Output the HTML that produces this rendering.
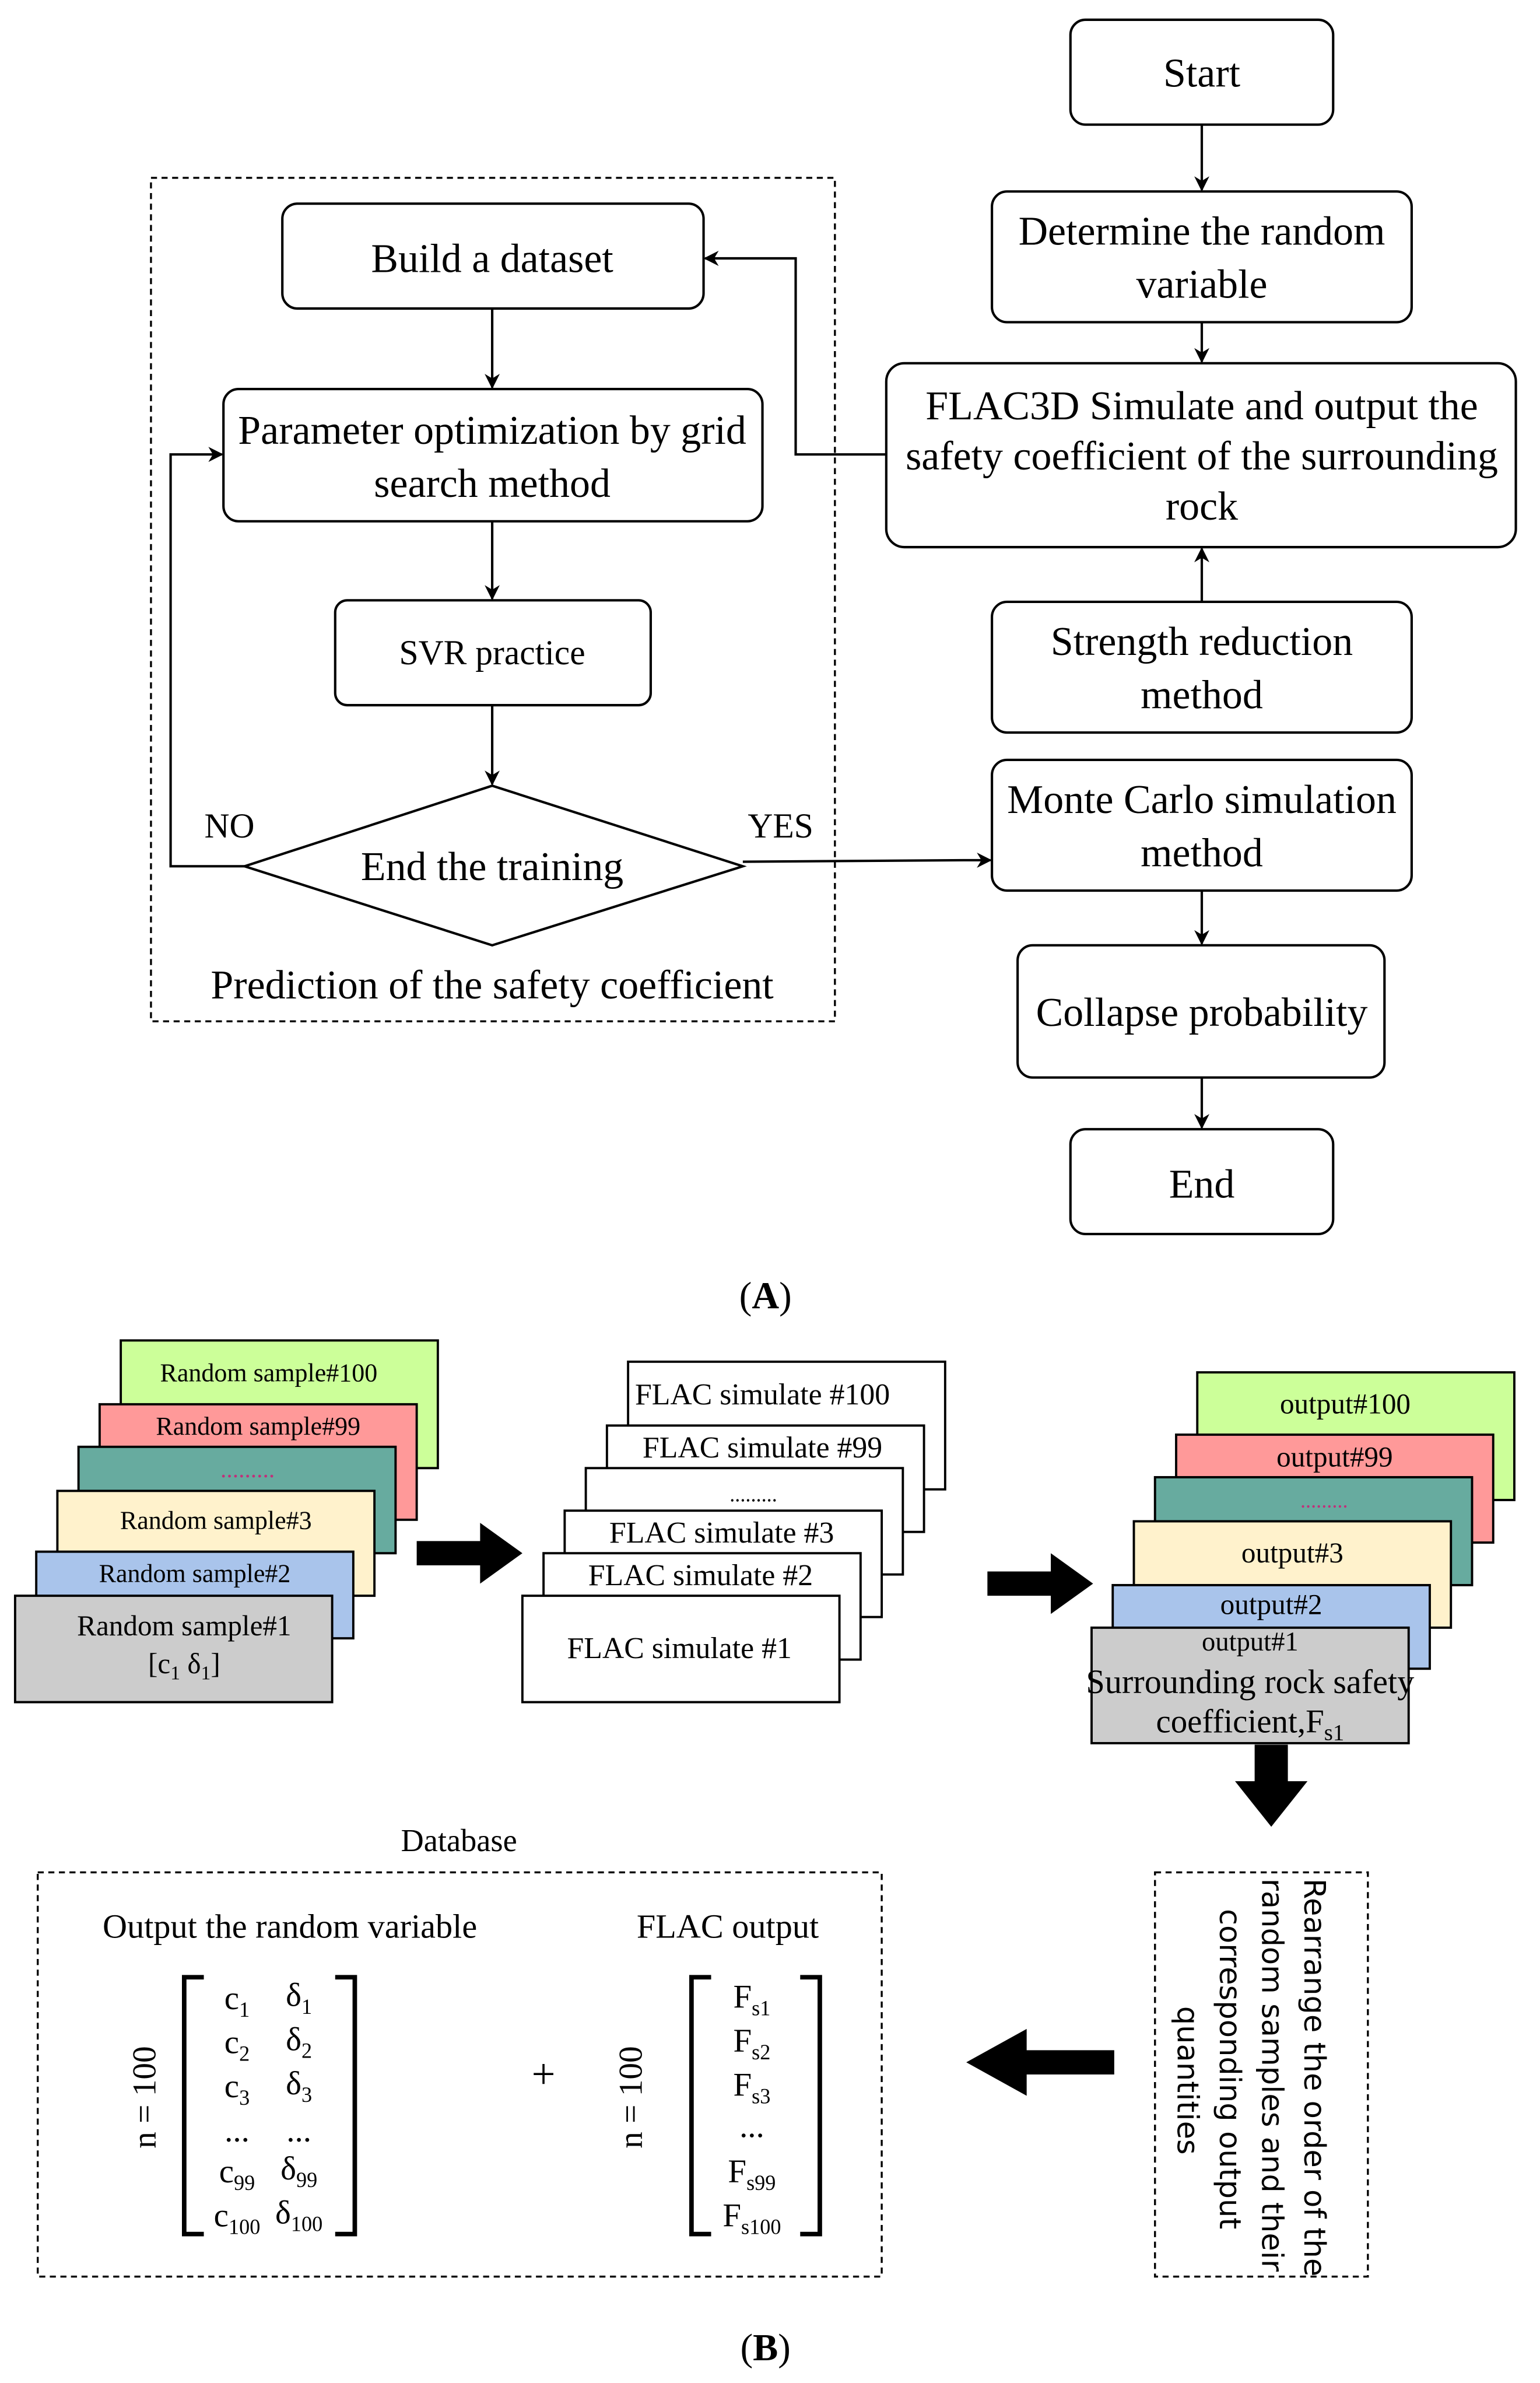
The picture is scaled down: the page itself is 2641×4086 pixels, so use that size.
<!DOCTYPE html>
<html><head><meta charset="utf-8"><style>html,body{margin:0;padding:0;background:#fff}svg{display:block}</style></head>
<body>
<svg width="2641" height="4086" viewBox="0 0 1020 1568" preserveAspectRatio="none" xmlns="http://www.w3.org/2000/svg" font-family="Liberation Serif, serif">
<defs>
<marker id="ah" markerWidth="10" markerHeight="10" refX="9" refY="5" orient="auto" markerUnits="userSpaceOnUse"><path d="M0,0 L10,5 L0,10 L3,5 z" fill="#000"/></marker>
</defs>
<rect width="1020" height="1568" fill="#fff"/>
<g fill="none" stroke="#000" stroke-width="1.6">
<rect x="709" y="13" width="174" height="69" rx="10"/>
<rect x="657" y="126" width="278" height="86" rx="10"/>
<rect x="587" y="239" width="417" height="121" rx="12"/>
<rect x="657" y="396" width="278" height="86" rx="10"/>
<rect x="657" y="500" width="278" height="86" rx="10"/>
<rect x="674" y="622" width="243" height="87" rx="10"/>
<rect x="709" y="743" width="174" height="69" rx="10"/>
<rect x="187" y="134" width="279" height="69" rx="10"/>
<rect x="148" y="256" width="357" height="87" rx="10"/>
<rect x="222" y="395" width="209" height="69" rx="8"/>
<polygon points="326,517 492,570 326,622 162,570"/>
<rect x="100" y="117" width="453" height="555" stroke-dasharray="4,3" stroke-width="1.3"/>
<line x1="796" y1="82" x2="796" y2="125" marker-end="url(#ah)"/>
<line x1="796" y1="212" x2="796" y2="238" marker-end="url(#ah)"/>
<line x1="796" y1="396" x2="796" y2="361" marker-end="url(#ah)"/>
<line x1="796" y1="586" x2="796" y2="621" marker-end="url(#ah)"/>
<line x1="796" y1="709" x2="796" y2="742" marker-end="url(#ah)"/>
<line x1="326" y1="203" x2="326" y2="255" marker-end="url(#ah)"/>
<line x1="326" y1="343" x2="326" y2="394" marker-end="url(#ah)"/>
<line x1="326" y1="464" x2="326" y2="516" marker-end="url(#ah)"/>
<polyline points="162,570 113,570 113,299 147,299" marker-end="url(#ah)"/>
<polyline points="492,567 640,566 656,566" marker-end="url(#ah)"/>
<polyline points="587,299 527,299 527,170 467,170" marker-end="url(#ah)"/>
</g>
<g font-size="27" text-anchor="middle" fill="#000">
<text x="796" y="57">Start</text>
<text x="796" y="161">Determine the random</text>
<text x="796" y="196">variable</text>
<text x="796" y="276">FLAC3D Simulate and output the</text>
<text x="796" y="309">safety coefficient of the surrounding</text>
<text x="796" y="342">rock</text>
<text x="796" y="431">Strength reduction</text>
<text x="796" y="466">method</text>
<text x="796" y="535">Monte Carlo simulation</text>
<text x="796" y="570">method</text>
<text x="796" y="675">Collapse probability</text>
<text x="796" y="788">End</text>
<text x="326" y="179">Build a dataset</text>
<text x="326" y="292">Parameter optimization by grid</text>
<text x="326" y="327">search method</text>
<text x="326" y="437" font-size="23">SVR practice</text>
<text x="326" y="579">End the training</text>
<text x="152" y="551" font-size="23">NO</text>
<text x="517" y="551" font-size="23">YES</text>
<text x="326" y="657">Prediction of the safety coefficient</text>
<text x="507" y="861" font-size="25">(<tspan font-weight="bold">A</tspan>)</text>
<text x="507" y="1553" font-size="25">(<tspan font-weight="bold">B</tspan>)</text>
</g>
<g stroke="#000" stroke-width="1.5">
<rect x="80" y="882" width="210" height="84" fill="#ccff99"/>
<rect x="66" y="924" width="210" height="76" fill="#ff9999"/>
<rect x="52" y="952" width="210" height="70" fill="#67ab9f"/>
<rect x="38" y="981" width="210" height="69" fill="#fff2cc"/>
<rect x="24" y="1021" width="210" height="57" fill="#a9c4eb"/>
<rect x="10" y="1050" width="210" height="70" fill="#cccccc"/>
<rect x="416" y="896" width="210" height="84" fill="#fff"/>
<rect x="402" y="938" width="210" height="70" fill="#fff"/>
<rect x="388" y="966" width="210" height="70" fill="#fff"/>
<rect x="374" y="994" width="210" height="70" fill="#fff"/>
<rect x="360" y="1022" width="210" height="70" fill="#fff"/>
<rect x="346" y="1050" width="210" height="70" fill="#fff"/>
<rect x="793" y="903" width="210" height="84" fill="#ccff99"/>
<rect x="779" y="944" width="210" height="71" fill="#ff9999"/>
<rect x="765" y="972" width="210" height="71" fill="#67ab9f"/>
<rect x="751" y="1001" width="210" height="70" fill="#fff2cc"/>
<rect x="737" y="1043" width="210" height="55" fill="#a9c4eb"/>
<rect x="723" y="1071" width="210" height="76" fill="#cccccc"/>
</g>
<g fill="#000">
<polygon points="276,1014 318,1014 318,1002 346,1022 318,1042 318,1030 276,1030"/>
<polygon points="654,1034 696,1034 696,1022 724,1042 696,1062 696,1050 654,1050"/>
<polygon points="831,1148 853,1148 853,1172 866,1172 842,1202 818,1172 831,1172"/>
<polygon points="738,1349 680,1349 680,1335 640,1357 680,1379 680,1365 738,1365"/>
</g>
<g text-anchor="middle" fill="#000">
<text x="178" y="909" font-size="17">Random sample#100</text>
<text x="171" y="944" font-size="17">Random sample#99</text>
<text x="164" y="972" font-size="16" fill="#c0307a">.........</text>
<text x="143" y="1006" font-size="17">Random sample#3</text>
<text x="129" y="1041" font-size="17">Random sample#2</text>
<text x="122" y="1076" font-size="19">Random sample#1</text>
<text x="122" y="1101" font-size="19">[c<tspan font-size="13" dy="4">1</tspan><tspan dy="-4"> δ</tspan><tspan font-size="13" dy="4">1</tspan><tspan dy="-4">]</tspan></text>
<text x="505" y="924" font-size="20">FLAC simulate #100</text>
<text x="505" y="959" font-size="20">FLAC simulate #99</text>
<text x="499" y="988" font-size="14">.........</text>
<text x="478" y="1015" font-size="20">FLAC simulate #3</text>
<text x="464" y="1043" font-size="20">FLAC simulate #2</text>
<text x="450" y="1091" font-size="20">FLAC simulate #1</text>
<text x="891" y="930" font-size="19">output#100</text>
<text x="884" y="965" font-size="19">output#99</text>
<text x="877" y="992" font-size="14" fill="#c0307a">.........</text>
<text x="856" y="1028" font-size="19">output#3</text>
<text x="842" y="1062" font-size="19">output#2</text>
<text x="828" y="1086" font-size="18">output#1</text>
<text x="828" y="1114" font-size="22.5">Surrounding rock safety</text>
<text x="828" y="1140" font-size="22">coefficient,F<tspan font-size="15" dy="5">s1</tspan></text>
<text x="304" y="1218" font-size="21">Database</text>
<text x="192" y="1275" font-size="22.5">Output the random variable</text>
<text x="482" y="1275" font-size="22.5">FLAC output</text>
<text x="360" y="1374" font-size="28">+</text>
<text transform="translate(103,1380) rotate(-90)" font-size="22">n = 100</text>
<text transform="translate(425,1380) rotate(-90)" font-size="22">n = 100</text>
</g>
<g fill="none" stroke="#000">
<rect x="25" y="1232" width="559" height="266" stroke-dasharray="4,3" stroke-width="1.3"/>
<rect x="765" y="1232" width="141" height="266" stroke-dasharray="4,3" stroke-width="1.3"/>
<polyline points="135,1301 122,1301 122,1470 135,1470" stroke-width="3"/>
<polyline points="222,1301 235,1301 235,1470 222,1470" stroke-width="3"/>
<polyline points="471,1301 458,1301 458,1470 471,1470" stroke-width="3"/>
<polyline points="530,1301 543,1301 543,1470 530,1470" stroke-width="3"/>
</g>
<g font-size="22" text-anchor="middle" fill="#000">
<text x="157" y="1322">c<tspan font-size="14" dy="5">1</tspan></text>
<text x="198" y="1320">δ<tspan font-size="14" dy="5">1</tspan></text>
<text x="157" y="1351">c<tspan font-size="14" dy="5">2</tspan></text>
<text x="198" y="1349">δ<tspan font-size="14" dy="5">2</tspan></text>
<text x="157" y="1380">c<tspan font-size="14" dy="5">3</tspan></text>
<text x="198" y="1378">δ<tspan font-size="14" dy="5">3</tspan></text>
<text x="157" y="1409">...</text>
<text x="198" y="1409">...</text>
<text x="157" y="1436">c<tspan font-size="14" dy="5">99</tspan></text>
<text x="198" y="1434">δ<tspan font-size="14" dy="5">99</tspan></text>
<text x="157" y="1465">c<tspan font-size="14" dy="5">100</tspan></text>
<text x="198" y="1463">δ<tspan font-size="14" dy="5">100</tspan></text>
<text x="498" y="1321">F<tspan font-size="14" dy="5">s1</tspan></text>
<text x="498" y="1350">F<tspan font-size="14" dy="5">s2</tspan></text>
<text x="498" y="1379">F<tspan font-size="14" dy="5">s3</tspan></text>
<text x="498" y="1406">...</text>
<text x="498" y="1436">F<tspan font-size="14" dy="5">s99</tspan></text>
<text x="498" y="1465">F<tspan font-size="14" dy="5">s100</tspan></text>
</g>
<g font-family="DejaVu Sans, sans-serif" font-size="19.6" fill="#000">
<text transform="translate(864,1236) rotate(90)">Rearrange the order of the</text>
<text transform="translate(836,1236) rotate(90)">random samples and their</text>
<text transform="translate(808,1256) rotate(90)">corresponding output</text>
<text transform="translate(780,1320) rotate(90)">quantities</text>
</g>
</svg>
</body></html>
